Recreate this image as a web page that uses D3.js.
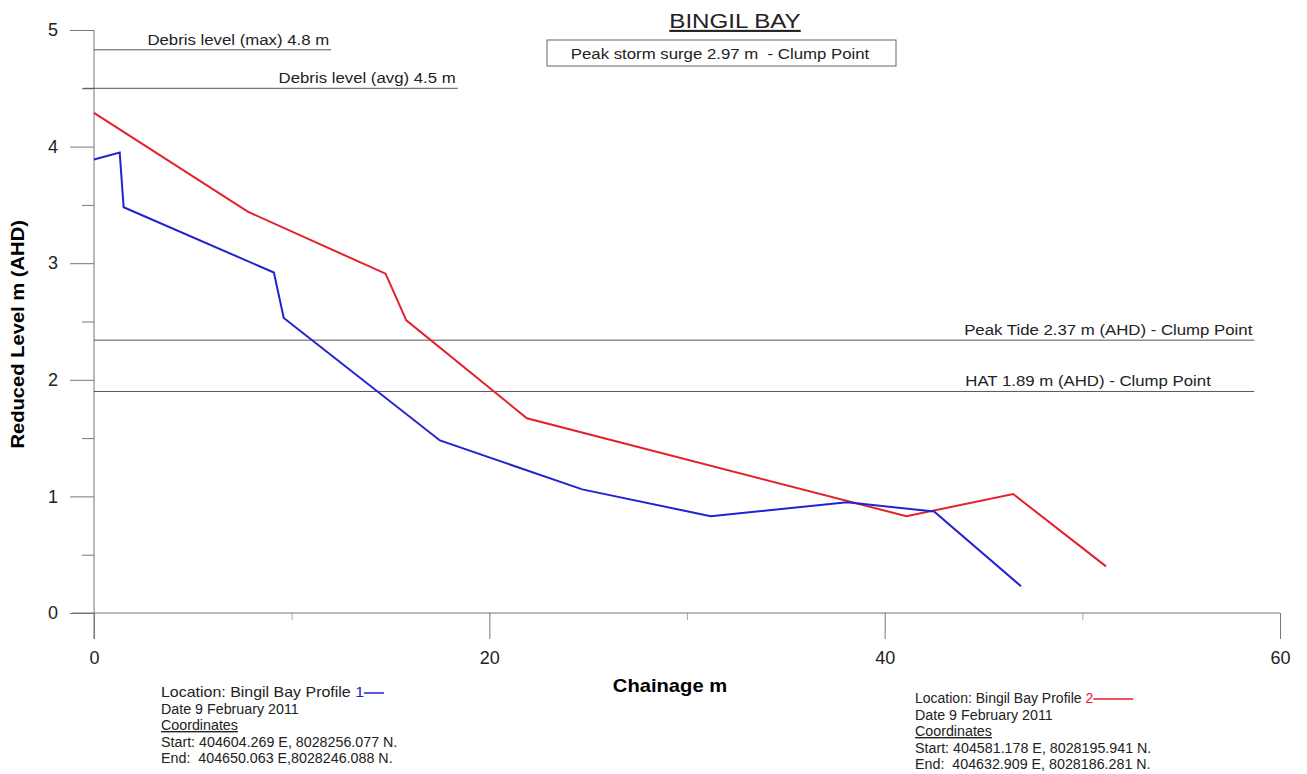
<!DOCTYPE html>
<html>
<head>
<meta charset="utf-8">
<script src="https://cdn.jsdelivr.net/npm/d3@7"></script>
<style>
  body { margin: 0; background: #fff; }
  svg { display: block; font-family: "Liberation Sans", Arial, sans-serif; }
</style>
</head>
<body>
<svg id="chart" width="1307" height="774"></svg>
<script>
// profile data
const profile1X = [0, 1.3, 1.5, 9.1, 9.6, 17.5, 24.7, 31.2, 38.1, 42.5, 46.9];
const profile1Y = [3.89, 3.95, 3.48, 2.92, 2.53, 1.48, 1.06, 0.83, 0.95, 0.87, 0.23];
const profile2X = [0, 7.8, 14.75, 15.8, 21.9, 41.1, 46.5, 51.2];
const profile2Y = [4.29, 3.44, 2.91, 2.51, 1.67, 0.83, 1.02, 0.40];

const levelValues = [4.83, 4.5, 2.34, 1.9];
const levelLabels = ['Debris level (max) 4.8 m', 'Debris level (avg) 4.5 m',
  'Peak Tide 2.37 m (AHD) - Clump Point', 'HAT 1.89 m (AHD) - Clump Point'];
const levelFrom = [0, -0.55, 0, 0];
const levelTo = [12, 18.4, 58.7, 58.7];
const levelLabelEnd = [11.9, 18.3, 58.6, 56.5];

const xMajor = [0, 20, 40, 60];
const xMinor = [10, 30, 50];
const yMajor = [0, 1, 2, 3, 4, 5];
const yMinor = [0.5, 1.5, 2.5, 3.5, 4.5];

const legend1 = ['Date 9 February 2011', 'Coordinates',
  'Start: 404604.269 E, 8028256.077 N.', 'End:  404650.063 E,8028246.088 N.'];
const legend2 = ['Date 9 February 2011', 'Coordinates',
  'Start: 404581.178 E, 8028195.941 N.', 'End:  404632.909 E, 8028186.281 N.'];

const svg = d3.select('#chart');
const x = d3.scaleLinear().domain([0, 60]).range([94, 1280]);
const y = d3.scaleLinear().domain([0, 5]).range([613, 30]);
const axisColor = '#777';
const stretch = 1.12; // the original lettering is a bit wider than Arial

// axes
const yAxis = svg.append('g').attr('transform', `translate(${x(0)},0)`);
yAxis.call(d3.axisLeft(y).tickValues(yMajor).tickSize(24).tickPadding(12).tickFormat(d3.format('d')));
yAxis.select('.domain').remove();
yAxis.selectAll('line').attr('stroke', axisColor);
yAxis.selectAll('text').attr('font-size', 18).attr('fill', '#222').attr('font-family', 'Liberation Sans, Arial');
const yAxisMinor = svg.append('g').attr('transform', `translate(${x(0)},0)`);
yAxisMinor.call(d3.axisLeft(y).tickValues(yMinor).tickSize(12).tickFormat(''));
yAxisMinor.select('.domain').remove();
yAxisMinor.selectAll('line').attr('stroke', axisColor);

const xAxis = svg.append('g').attr('transform', `translate(0,${y(0)})`);
xAxis.call(d3.axisBottom(x).tickValues(xMajor).tickSize(26).tickPadding(12).tickFormat(d3.format('d')));
xAxis.select('.domain').remove();
xAxis.selectAll('line').attr('stroke', axisColor);
xAxis.selectAll('text').attr('font-size', 18).attr('fill', '#222').attr('font-family', 'Liberation Sans, Arial');
const xAxisMinor = svg.append('g').attr('transform', `translate(0,${y(0)})`);
xAxisMinor.call(d3.axisBottom(x).tickValues(xMinor).tickSize(7).tickFormat(''));
xAxisMinor.select('.domain').remove();
xAxisMinor.selectAll('line').attr('stroke', '#aaa');

svg.append('line')
  .attr('x1', x(0)).attr('x2', x(0))
  .attr('y1', y(5)).attr('y2', y(0) + 26)
  .attr('stroke', axisColor);
svg.append('line')
  .attr('x1', x(0) - 22).attr('x2', x(60))
  .attr('y1', y(0)).attr('y2', y(0))
  .attr('stroke', axisColor);

// axis titles
svg.append('text')
  .attr('transform', `translate(24,${y(2.39)}) rotate(-90) scale(${stretch},1)`)
  .attr('text-anchor', 'middle')
  .attr('font-size', 18).attr('font-weight', 'bold')
  .text('Reduced Level m (AHD)');
svg.append('text')
  .attr('transform', `translate(670,692) scale(${stretch},1)`)
  .attr('text-anchor', 'middle')
  .attr('font-size', 18).attr('font-weight', 'bold')
  .text('Chainage m');

// reference levels
const levels = svg.append('g').selectAll('g')
  .data(levelValues)
  .enter()
  .append('g');
levels.append('line')
  .attr('x1', (d, i) => x(levelFrom[i]))
  .attr('x2', (d, i) => x(levelTo[i]))
  .attr('y1', d => y(d)).attr('y2', d => y(d))
  .attr('stroke', '#555').attr('stroke-width', 1);
levels.append('text')
  .attr('transform', (d, i) => `translate(${x(levelLabelEnd[i])},${y(d) - 5}) scale(${stretch},1)`)
  .attr('text-anchor', 'end')
  .attr('font-size', 15).attr('fill', '#222')
  .text((d, i) => levelLabels[i]);

// title and storm surge box
svg.append('text')
  .attr('transform', `translate(735,28) scale(1.15,1)`)
  .attr('text-anchor', 'middle')
  .attr('font-size', 21).attr('fill', '#222')
  .attr('text-decoration', 'underline')
  .text('BINGIL BAY');
svg.append('rect')
  .attr('x', 547).attr('y', 40).attr('width', 349).attr('height', 26)
  .attr('fill', 'none').attr('stroke', '#666');
svg.append('text')
  .attr('transform', `translate(720,59) scale(${stretch},1)`)
  .attr('text-anchor', 'middle')
  .attr('font-size', 15).attr('fill', '#222')
  .attr('xml:space', 'preserve')
  .text('Peak storm surge 2.97 m  - Clump Point');

// profiles
const line = d3.line().x(d => x(d[0])).y(d => y(d[1]));
const p1 = profile1X.map((d, i) => [d, profile1Y[i]]);
const p2 = profile2X.map((d, i) => [d, profile2Y[i]]);
svg.append('path').datum(p2)
  .attr('d', line).attr('fill', 'none')
  .attr('stroke', '#e4202c').attr('stroke-width', 2);
svg.append('path').datum(p1)
  .attr('d', line).attr('fill', 'none')
  .attr('stroke', '#2222d0').attr('stroke-width', 2);

// legend blocks
const drawLegend = (lx, ly, num, color, rows, headStretch, keyLen) => {
  const g = svg.append('g')
    .attr('transform', `translate(${lx},${ly})`)
    .attr('font-size', 14).attr('fill', '#222');
  const first = g.append('text').attr('transform', `scale(${headStretch},1)`);
  first.append('tspan').text('Location: Bingil Bay Profile ');
  first.append('tspan').attr('fill', color).text(num);
  const w = first.node().getComputedTextLength() * headStretch;
  g.append('line')
    .attr('x1', w).attr('x2', w + keyLen)
    .attr('y1', -4).attr('y2', -4)
    .attr('stroke', color).attr('stroke-width', 1.5);
  g.selectAll('.row')
    .data(rows)
    .enter()
    .append('text')
    .attr('transform', (d, i) => `translate(0,${(i + 1) * 16.5}) scale(1.02,1)`)
    .attr('text-decoration', (d, i) => (i === 1 ? 'underline' : null))
    .attr('xml:space', 'preserve')
    .text(d => d);
};
drawLegend(161, 697, '1', '#2222d0', legend1, 1.14, 20);
drawLegend(915, 703, '2', '#e4202c', legend2, 1.0, 40);
</script>
</body>
</html>
